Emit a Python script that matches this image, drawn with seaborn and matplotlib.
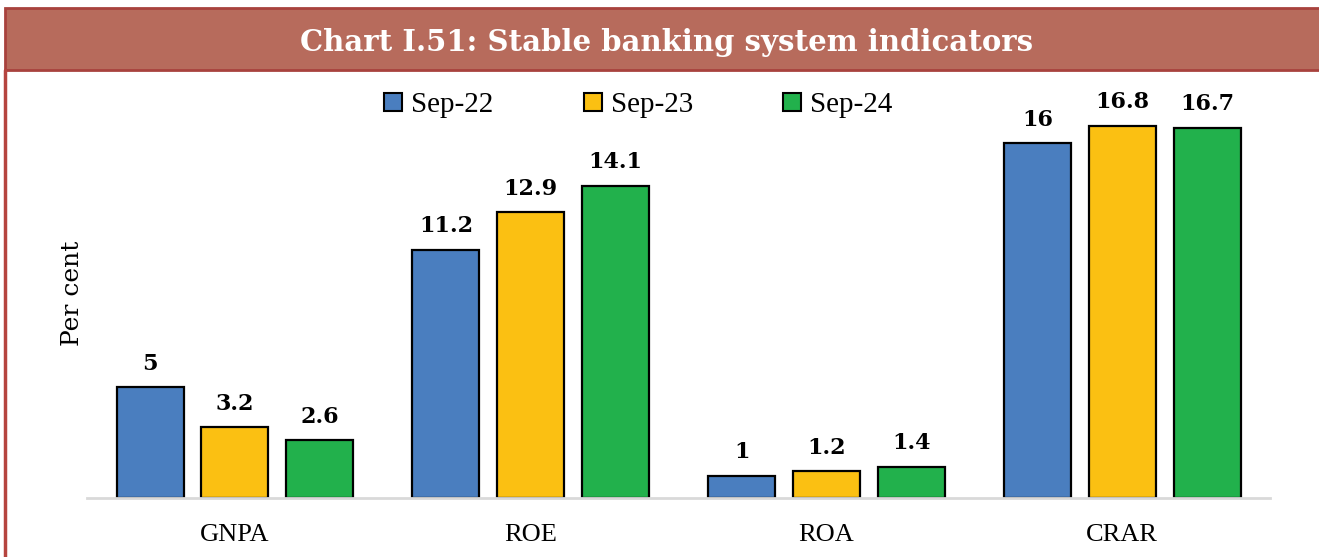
import pandas as pd
import seaborn as sns
import matplotlib.pyplot as plt
from matplotlib.patches import Rectangle

# data
indicators = ['GNPA', 'ROE', 'ROA', 'CRAR']
periods = ['Sep-22', 'Sep-23', 'Sep-24']
sep22 = [5, 11.2, 1, 16]
sep23 = [3.2, 12.9, 1.2, 16.8]
sep24 = [2.6, 14.1, 1.4, 16.7]
bar_colors = ['#4A7EBF', '#FBC012', '#22B14C']


def get_long(ind, values_by_period):
    rows = []
    for period, vals in zip(periods, values_by_period):
        for name, v in zip(ind, vals):
            rows.append({'indicator': name, 'period': period, 'value': v})
    return pd.DataFrame(rows)


df = get_long(indicators, [sep22, sep23, sep24])

sns.set_style('white')
plt.rcParams['text.color'] = 'black'
plt.rcParams['xtick.color'] = 'black'
plt.rcParams['axes.labelcolor'] = 'black'

fig = plt.figure(figsize=(13.19, 5.57), dpi=100)
ax = fig.add_axes([0.066, 0.106, 0.897, 0.736])

sns.barplot(data=df, x='indicator', y='value', hue='period', palette=bar_colors,
            saturation=1, width=0.86, gap=0.21, edgecolor='black', linewidth=1.6, ax=ax)

# data labels
for cont in ax.containers:
    labels = ['{:g}'.format(b.get_height()) for b in cont]
    ax.bar_label(cont, labels=labels, padding=9, fontsize=16, color='black',
                 fontweight='bold', family='DejaVu Serif')

ax.set_ylim(0, 18.5)
ax.set_xlim(-0.5, 3.5)
ax.set_yticks([])
ax.set_xlabel('')
ax.set_ylabel('Per cent', family='DejaVu Serif', fontsize=18, labelpad=2)
ax.tick_params(axis='x', length=0, pad=19)
for lbl in ax.get_xticklabels():
    lbl.set_family('Liberation Serif')
    lbl.set_fontsize(19)
for s in ['top', 'right', 'left']:
    ax.spines[s].set_visible(False)
ax.spines['bottom'].set_color('#D9D9D9')
ax.spines['bottom'].set_linewidth(2)

leg = ax.legend(ncol=3, frameon=False, loc='center left', bbox_to_anchor=(0.229, 0.958),
                handlelength=0.62, handleheight=0.62, handletextpad=0.3,
                columnspacing=3.1, prop={'family': 'Liberation Serif', 'size': 21})
for h in leg.legend_handles:
    h.set_edgecolor('black')
    h.set_linewidth(1.5)

# title banner and frame
fig.patches.append(Rectangle((0.004, 0.874), 1.0, 0.112, transform=fig.transFigure,
                             facecolor='#B76B5C', edgecolor='#A8423D', linewidth=2))
fig.add_artist(plt.Line2D([0.004, 0.004], [0.0, 0.874], transform=fig.transFigure,
                          color='#B5443F', linewidth=2.5))
fig.text(0.505, 0.924, 'Chart I.51: Stable banking system indicators', color='white',
         fontsize=21, fontweight='bold', family='DejaVu Serif', ha='center', va='center')

fig.savefig('out.png', dpi=100)
